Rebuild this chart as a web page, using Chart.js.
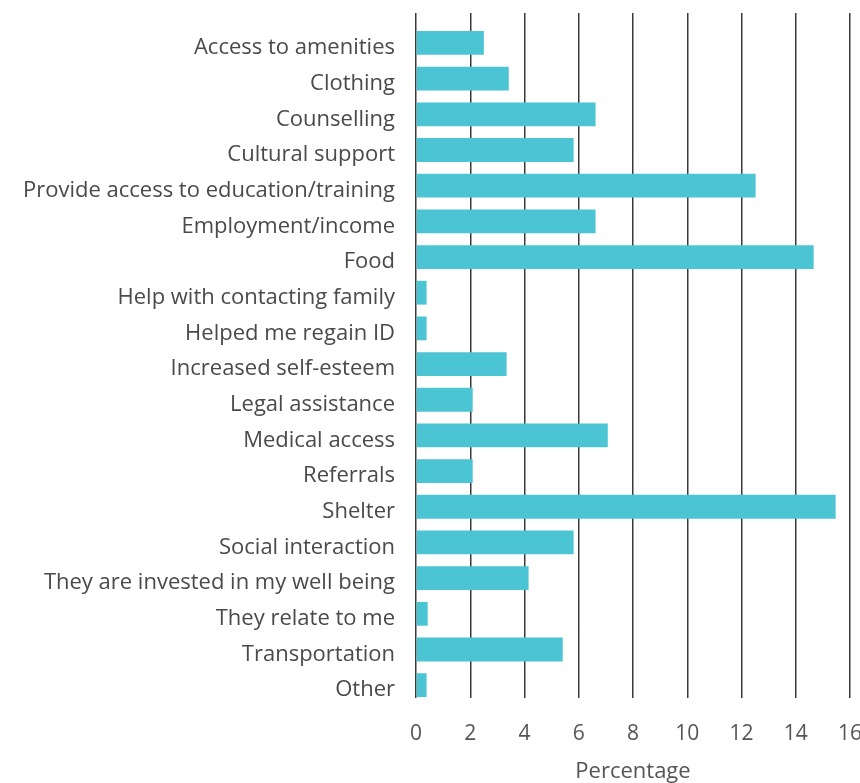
<!DOCTYPE html>
<html>
<head>
<meta charset="utf-8">
<script src="https://cdn.jsdelivr.net/npm/chart.js@4"></script>
<style>
  html, body { margin: 0; padding: 0; background: #fff; overflow: hidden; }
  #wrap { width: 860px; height: 783px; }
</style>
</head>
<body>
<div id="wrap"><canvas id="barChart" width="860" height="783"></canvas></div>
<script>
const categories = [
  'Access to amenities',
  'Clothing',
  'Counselling',
  'Cultural support',
  'Provide access to education/training',
  'Employment/income',
  'Food',
  'Help with contacting family',
  'Helped me regain ID',
  'Increased self-esteem',
  'Legal assistance',
  'Medical access',
  'Referrals',
  'Shelter',
  'Social interaction',
  'They are invested in my well being',
  'They relate to me',
  'Transportation',
  'Other'
];
const percentages = [2.5, 3.42, 6.62, 5.81, 12.52, 6.62, 14.66, 0.39, 0.39, 3.34, 2.09, 7.07, 2.09, 15.47, 5.81, 4.15, 0.43, 5.41, 0.39];
const xTicks = [0, 2, 4, 6, 8, 10, 12, 14, 16];

const barColor = '#4BC5D3';
const fontFamily = "'Open Sans', 'Noto Sans', sans-serif";

// category positions on a numeric axis so the bars can sit a bit lower than the top grid edge
const points = percentages.map((v, i) => ({ x: v, y: i }));

const ctx = document.getElementById('barChart').getContext('2d');
const chart = new Chart(ctx, {
  type: 'bar',
  data: {
    datasets: [{
      label: 'Percentage',
      data: points,
      backgroundColor: barColor,
      borderWidth: 0,
      categoryPercentage: 1,
      barPercentage: 0.667
    }]
  },
  options: {
    indexAxis: 'y',
    responsive: false,
    animation: false,
    layout: { padding: { top: 13, right: 10, left: 0, bottom: 0 } },
    plugins: {
      legend: { display: false },
      tooltip: { enabled: false }
    },
    scales: {
      x: {
        type: 'linear',
        min: 0,
        max: 16,
        afterBuildTicks: scale => { scale.ticks = xTicks.map(v => ({ value: v })); },
        afterFit: scale => {
          scale.height = 85;
          scale.paddingLeft = 0;
          scale.paddingRight = 0;
        },
        grid: { color: '#3a3a3a', lineWidth: 1.5, drawTicks: false },
        border: { display: false },
        ticks: {
          padding: 23,
          color: '#555',
          font: { family: fontFamily, size: 21 }
        },
        title: {
          display: true,
          text: 'Percentage',
          color: '#555',
          font: { family: fontFamily, size: 22 },
          padding: { top: 0, bottom: -2 }
        }
      },
      y: {
        type: 'linear',
        reverse: true,
        offset: false,
        min: -0.84,
        max: 18.36,
        afterBuildTicks: scale => { scale.ticks = categories.map((c, i) => ({ value: i })); },
        afterFit: scale => {
          scale.width = 416;
          scale.paddingTop = 0;
          scale.paddingBottom = 0;
        },
        grid: { display: false, drawTicks: false },
        border: { display: false },
        ticks: {
          padding: 21,
          labelOffset: 5,
          color: '#4a4a4a',
          font: { family: fontFamily, size: 22 },
          callback: value => categories[value]
        }
      }
    }
  }
});
</script>
</body>
</html>
